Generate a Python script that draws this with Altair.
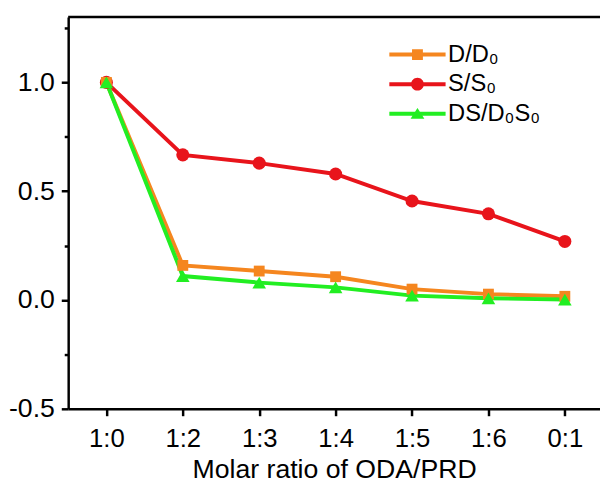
import json
import altair as alt
import pandas as pd

# ---------------- data ----------------
ratios = ["1:0", "1:2", "1:3", "1:4", "1:5", "1:6", "0:1"]
d_ratio = [1.0, 0.159, 0.133, 0.107, 0.050, 0.027, 0.017]
s_ratio = [1.0, 0.667, 0.629, 0.579, 0.455, 0.396, 0.269]
ds_ratio = [1.0, 0.110, 0.080, 0.058, 0.020, 0.008, 0.002]

series_names = ["D/D\u2080", "S/S\u2080", "DS/D\u2080S\u2080"]
series_values = [d_ratio, s_ratio, ds_ratio]
series_colors = ["#F5861F", "#E8141B", "#22EE22"]
marker_shapes = ["square", "circle", "triangle-up"]
marker_sizes = [121, 175, 190]
draw_order = [1, 0, 2]  # red first, then orange, green on top

y_ticks = [-0.5, -0.25, 0.0, 0.25, 0.5, 0.75, 1.0, 1.25]

rows = []
for name, vals in zip(series_names, series_values):
    for i, v in enumerate(vals):
        rows.append({"idx": i, "ratio": ratios[i], "series": name, "value": v})
df = pd.DataFrame(rows)

W, H = 539, 397
FONT = "Liberation Sans"

# ---------------- legend symbols (line + marker) ----------------
def rect(x0, y0, x1, y1):
    return f"M{x0:.3f},{y0:.3f}L{x1:.3f},{y0:.3f}L{x1:.3f},{y1:.3f}L{x0:.3f},{y1:.3f}Z"

u = 6.5  # px per path unit for size 169
line_l, line_r, lh = -1.0, 50.5 / u, 2.0 / u
cx = 22.0 / u
line_path = rect(line_l, -lh, line_r, lh)
sq = 5.5 / u
square_path = rect(cx - sq, -sq, cx + sq, sq)
r = 6.5 / u
circle_path = f"M{cx + r:.3f},0A{r:.3f},{r:.3f} 0 1,1 {cx - r:.3f},0A{r:.3f},{r:.3f} 0 1,1 {cx + r:.3f},0Z"
tw = 7.0 / u
triangle_path = f"M{cx:.3f},{-6.0 / u:.3f}L{cx + tw:.3f},{5.0 / u:.3f}L{cx - tw:.3f},{5.0 / u:.3f}Z"
legend_paths = [line_path + square_path, line_path + circle_path, line_path + triangle_path]

major_test = "abs(datum.value % 0.5) < 1e-9"

# ---------------- encodings ----------------
x_enc = alt.X(
    "idx:Q",
    scale=alt.Scale(domain=[-0.5, 6.46], nice=False, zero=False),
    axis=alt.Axis(
        values=list(range(len(ratios))),
        labelExpr=f"{json.dumps(ratios)}[datum.value]",
        title="Molar ratio of ODA/PRD",
        grid=False,
        domainColor="black", domainWidth=2.5,
        tickColor="black", tickWidth=2.5, tickSize=7,
        labelFont=FONT, labelFontSize=26, labelColor="black", labelPadding=10,
        labelFlush=False, labelOverlap=False,
        titleFont=FONT, titleFontSize=27, titleFontWeight="normal", titleColor="black",
        titleBaseline="alphabetic", titleY=70,
    ),
)
y_enc = alt.Y(
    "value:Q",
    scale=alt.Scale(domain=[-0.5, 1.3], nice=False, zero=False),
    axis=alt.Axis(
        values=y_ticks,
        labelExpr=f"{major_test} ? (datum.value < 0 ? '-' + format(abs(datum.value), '.1f') : format(datum.value, '.1f')) : ''",
        title=None,
        grid=False,
        domainColor="black", domainWidth=2.5,
        tickColor="black", tickWidth=2.5,
        tickSize={"condition": {"test": major_test, "value": 7}, "value": 4},
        labelFont=FONT, labelFontSize=27, labelColor="black", labelPadding=7,
        labelOverlap=False, labelFlush=False,
    ),
)

layers = []
for k in draw_order:
    name = series_names[k]
    base = alt.Chart(df).transform_filter(alt.datum.series == name)
    layers.append(base.mark_line(strokeWidth=4, color=series_colors[k]).encode(x=x_enc, y=y_enc))
for k in draw_order:
    name = series_names[k]
    base = alt.Chart(df).transform_filter(alt.datum.series == name)
    layers.append(
        base.mark_point(filled=True, opacity=1, shape=marker_shapes[k], size=marker_sizes[k],
                        color=series_colors[k], strokeWidth=0).encode(x=x_enc, y=y_enc)
    )

legend_cfg = dict(
    orient="none", legendX=320, legendY=26, title=None,
    labelFont=FONT, labelFontSize=24, labelColor="black", labelOffset=41,
    symbolSize=169, symbolStrokeWidth=0, rowPadding=6, padding=0,
)
legend_layer = (
    alt.Chart(df).transform_filter("false")
    .mark_point(filled=True, opacity=1, size=169)
    .encode(
        x=x_enc, y=y_enc,
        color=alt.Color("series:N", scale=alt.Scale(domain=series_names, range=series_colors),
                        legend=alt.Legend(**legend_cfg)),
        shape=alt.Shape("series:N", scale=alt.Scale(domain=series_names, range=legend_paths),
                        legend=alt.Legend(**legend_cfg)),
    )
)
layers.append(legend_layer)

top_border = alt.Chart(alt.Data(values=[{}])).mark_rule(color="black", strokeWidth=2.5).encode(
    x=alt.value(0), x2=alt.value(W), y=alt.value(0)
)
layers.append(top_border)

chart = (
    alt.layer(*layers)
    .properties(
        width=W, height=H,
        autosize=alt.AutoSizeParams(type="none"),
        padding={"left": 61, "top": 6, "right": 0, "bottom": 75},
        background="white",
    )
    .configure_view(stroke=None)
)

chart.save("out.html", embed_options={"renderer": "svg", "actions": False})
